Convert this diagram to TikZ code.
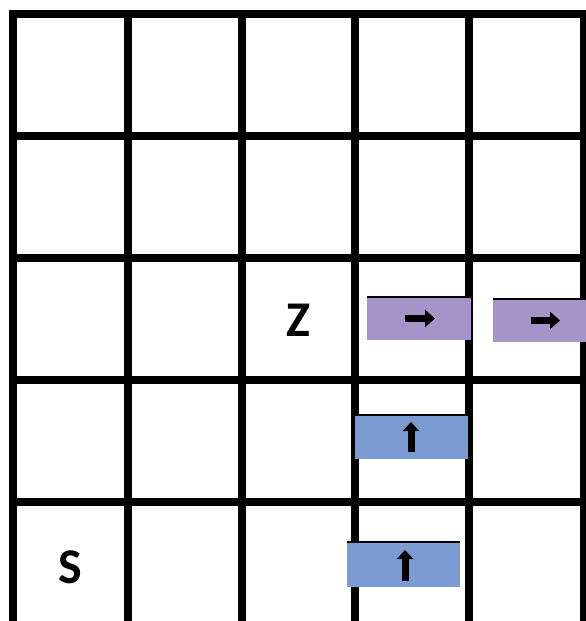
\documentclass[tikz,border=0pt]{standalone}
\usepackage{fontspec}
\setmainfont{Carlito}
\usetikzlibrary{positioning, calc}
\usetikzlibrary{arrows.meta}

\definecolor{tilepurple}{RGB}{166,148,201}
\definecolor{tileblue}{RGB}{122,156,210}

\begin{document}
\begin{tikzpicture}[x=1pt, y=-1pt,
    gridline/.style={line width=8pt, black},
    tile/.style={draw=none, minimum width=104pt, minimum height=43pt, inner sep=0pt},
    fatarrow/.style={line width=7.5pt, -{Triangle[width=17pt, length=10pt]}},
    letter/.style={font=\fontsize{50}{60}\selectfont\bfseries, inner sep=0pt}]

    \useasboundingbox (0,0) rectangle (586,621);
    \clip (0,0) rectangle (586,621);
    \fill[white] (0,0) rectangle (586,621);

    % Grid
    \foreach \x in {13,128,242,355,469,584} {
        \draw[gridline] (\x,10) -- (\x,621);
    }
    \foreach \y in {14,136,258,380,502} {
        \draw[gridline] (9,\y) -- (586,\y);
    }

    % Labels
    \node[letter] (Z) at (298,320) {Z};
    \node[letter] (S) at (70,567) {S};

    % Purple tiles (moving right)
    \node[tile, fill=tilepurple] (P1) at (419,318.5) {};
    \node[tile, fill=tilepurple] (P2) at (545,320.5) {};

    % Blue tiles (moving up)
    \node[tile, fill=tileblue, minimum width=113pt, minimum height=44pt] (B1) at (411.5,437) {};
    \node[tile, fill=tileblue, minimum width=113pt, minimum height=45pt] (B2) at (403.5,564.5) {};

    % Top edges of the tiles
    \foreach \t in {P1,P2,B1,B2} {
        \draw[line width=1.5pt] (\t.north west) -- (\t.north east);
    }

    % Arrows on the tiles
    \draw[fatarrow] ([xshift=-14pt]P1.center) -- ([xshift=16pt]P1.center);
    \draw[fatarrow] ([xshift=-14pt]P2.center) -- ([xshift=15pt]P2.center);
    \draw[fatarrow, line width=7pt, -{Triangle[width=16pt, length=9pt]}] ([xshift=-0.5pt, yshift=-15pt]B1.center) -- ([xshift=-0.5pt, yshift=15pt]B1.center);
    \draw[fatarrow, line width=7pt, -{Triangle[width=16pt, length=9pt]}] ([xshift=1.5pt, yshift=-16.5pt]B2.center) -- ([xshift=1.5pt, yshift=14.5pt]B2.center);

\end{tikzpicture}
\end{document}
